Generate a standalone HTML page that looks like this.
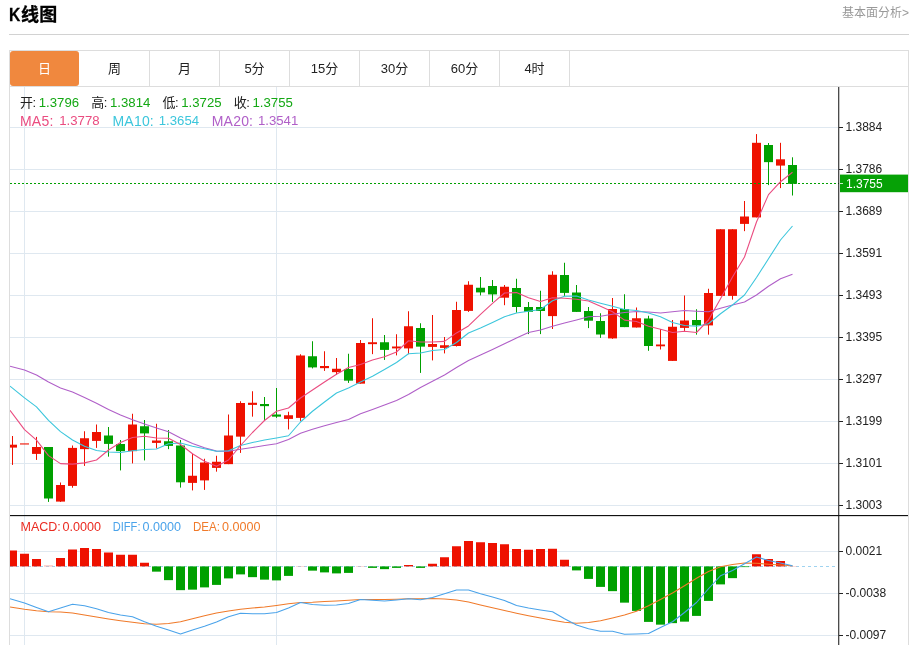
<!DOCTYPE html>
<html lang="zh-CN">
<head>
<meta charset="utf-8">
<title>K线图</title>
<style>
html,body{margin:0;padding:0;background:#fff;}
body{width:919px;height:645px;position:relative;overflow:hidden;font-family:"Liberation Sans","Noto Sans CJK SC",sans-serif;color:#222;}
.title{position:absolute;left:9.3px;top:1.8px;font-size:18px;font-weight:bold;line-height:26px;color:#000;white-space:nowrap;letter-spacing:0.3px;-webkit-text-stroke:0.3px #000;}
.more{position:absolute;right:10px;top:4px;font-size:12px;line-height:18px;color:#999;white-space:nowrap;}
.hr{position:absolute;left:9px;top:34px;width:900px;height:1px;background:#d2d2d2;}
.box{position:absolute;left:9px;top:50px;width:898px;height:620px;border:1px solid #ddd;}
.tabs{position:absolute;left:0;top:0;width:898px;height:35px;border-bottom:1px solid #ddd;}
.tab{position:absolute;top:0;width:69px;height:35px;border-right:1px solid #ddd;text-align:center;font-size:13px;line-height:36px;color:#222;}
.tab.on{background:#f0883e;color:#fff;border-right:0;width:69.8px;margin-left:-0.5px;border-radius:3px;}
.t{position:absolute;white-space:nowrap;font-size:14px;line-height:18px;}
.k{color:#222;font-size:13px;letter-spacing:-0.5px}.v{color:#14a814;font-size:13.2px}.m{font-size:14px;letter-spacing:0.2px}.mv{font-size:13.2px}
</style>
</head>
<body>
<div class="title"><span style="display:inline-block;transform:scaleX(.87);transform-origin:0 50%;margin-right:-1.7px">K</span>线图</div>
<div class="more">基本面分析&gt;</div>
<div class="hr"></div>
<div class="box">
<div class="tabs">
<div class="tab on" style="left:0px">日</div>
<div class="tab" style="left:70px">周</div>
<div class="tab" style="left:140px">月</div>
<div class="tab" style="left:210px">5分</div>
<div class="tab" style="left:280px">15分</div>
<div class="tab" style="left:350px">30分</div>
<div class="tab" style="left:420px">60分</div>
<div class="tab" style="left:490px">4时</div>
</div>
</div>
<svg width="919" height="645" viewBox="0 0 919 645" style="position:absolute;left:0;top:0">
<defs><clipPath id="cp"><rect x="10" y="87" width="829" height="558"/></clipPath></defs>
<rect x="10" y="127" width="828" height="1" fill="#dfe8f0"/><rect x="10" y="169" width="828" height="1" fill="#dfe8f0"/><rect x="10" y="211" width="828" height="1" fill="#dfe8f0"/><rect x="10" y="253" width="828" height="1" fill="#dfe8f0"/><rect x="10" y="295" width="828" height="1" fill="#dfe8f0"/><rect x="10" y="337" width="828" height="1" fill="#dfe8f0"/><rect x="10" y="379" width="828" height="1" fill="#dfe8f0"/><rect x="10" y="421" width="828" height="1" fill="#dfe8f0"/><rect x="10" y="463" width="828" height="1" fill="#dfe8f0"/><rect x="10" y="505" width="828" height="1" fill="#dfe8f0"/><rect x="10" y="551" width="828" height="1" fill="#dfe8f0"/><rect x="10" y="593" width="828" height="1" fill="#dfe8f0"/><rect x="10" y="635" width="828" height="1" fill="#dfe8f0"/><rect x="24" y="87" width="1" height="558" fill="#dfe8f0"/><rect x="276" y="87" width="1" height="558" fill="#dfe8f0"/>
<line x1="10" y1="566.5" x2="836" y2="566.5" stroke="#9fd3f0" stroke-width="1" stroke-dasharray="3,3"/>
<g clip-path="url(#cp)">
<rect x="12" y="436" width="1" height="28.9" fill="#ee1100"/>
<rect x="8" y="444.7" width="9" height="2.9" fill="#ee1100"/>
<rect x="20" y="443.4" width="9" height="1.1" fill="#ee1100"/>
<rect x="36" y="436.9" width="1" height="23" fill="#ee1100"/>
<rect x="32" y="447" width="9" height="6.9" fill="#ee1100"/>
<rect x="48" y="447" width="1" height="54.9" fill="#00a000"/>
<rect x="44" y="447" width="9" height="51.5" fill="#00a000"/>
<rect x="60" y="482.5" width="1" height="19.4" fill="#ee1100"/>
<rect x="56" y="485" width="9" height="16.6" fill="#ee1100"/>
<rect x="72" y="445.5" width="1" height="42.2" fill="#ee1100"/>
<rect x="68" y="447.9" width="9" height="38" fill="#ee1100"/>
<rect x="84" y="431.25" width="1" height="34.65" fill="#ee1100"/>
<rect x="80" y="438.25" width="9" height="10.9" fill="#ee1100"/>
<rect x="96" y="424.5" width="1" height="23.4" fill="#ee1100"/>
<rect x="92" y="432" width="9" height="8.9" fill="#ee1100"/>
<rect x="108" y="427" width="1" height="29.65" fill="#00a000"/>
<rect x="104" y="435.5" width="9" height="8.4" fill="#00a000"/>
<rect x="120" y="440" width="1" height="30.4" fill="#00a000"/>
<rect x="116" y="444" width="9" height="7.15" fill="#00a000"/>
<rect x="132" y="413.75" width="1" height="49.65" fill="#ee1100"/>
<rect x="128" y="424.5" width="9" height="26.65" fill="#ee1100"/>
<rect x="144" y="420" width="1" height="40.4" fill="#00a000"/>
<rect x="140" y="426.25" width="9" height="7.15" fill="#00a000"/>
<rect x="156" y="423.75" width="1" height="24.65" fill="#ee1100"/>
<rect x="152" y="440.5" width="9" height="2.4" fill="#ee1100"/>
<rect x="168" y="430" width="1" height="19.15" fill="#00a000"/>
<rect x="164" y="441.25" width="9" height="4.65" fill="#00a000"/>
<rect x="180" y="440" width="1" height="47.6" fill="#00a000"/>
<rect x="176" y="445.5" width="9" height="36.8" fill="#00a000"/>
<rect x="192" y="453.75" width="1" height="36.65" fill="#ee1100"/>
<rect x="188" y="475.75" width="9" height="7.15" fill="#ee1100"/>
<rect x="204" y="458.75" width="1" height="31.15" fill="#ee1100"/>
<rect x="200" y="462.5" width="9" height="17.9" fill="#ee1100"/>
<rect x="216" y="455.75" width="1" height="15.9" fill="#ee1100"/>
<rect x="212" y="461.75" width="9" height="6.15" fill="#ee1100"/>
<rect x="228" y="414.5" width="1" height="49.65" fill="#ee1100"/>
<rect x="224" y="435.5" width="9" height="28.65" fill="#ee1100"/>
<rect x="240" y="401.25" width="1" height="51.65" fill="#ee1100"/>
<rect x="236" y="403" width="9" height="33.65" fill="#ee1100"/>
<rect x="252" y="391.25" width="1" height="25.4" fill="#ee1100"/>
<rect x="248" y="402.75" width="9" height="2.15" fill="#ee1100"/>
<rect x="264" y="397" width="1" height="22.9" fill="#00a000"/>
<rect x="260" y="404" width="9" height="2.15" fill="#00a000"/>
<rect x="276" y="388" width="1" height="29.9" fill="#00a000"/>
<rect x="272" y="414.5" width="9" height="2.15" fill="#00a000"/>
<rect x="288" y="411.75" width="1" height="17.65" fill="#ee1100"/>
<rect x="284" y="415.25" width="9" height="3.65" fill="#ee1100"/>
<rect x="300" y="354.25" width="1" height="66.65" fill="#ee1100"/>
<rect x="296" y="355.5" width="9" height="62.4" fill="#ee1100"/>
<rect x="312" y="341.25" width="1" height="27.15" fill="#00a000"/>
<rect x="308" y="356.25" width="9" height="11.15" fill="#00a000"/>
<rect x="324" y="351.25" width="1" height="19.65" fill="#ee1100"/>
<rect x="320" y="366" width="9" height="2.15" fill="#ee1100"/>
<rect x="336" y="358" width="1" height="16.9" fill="#ee1100"/>
<rect x="332" y="368.75" width="9" height="3.4" fill="#ee1100"/>
<rect x="348" y="353.75" width="1" height="29.15" fill="#00a000"/>
<rect x="344" y="369" width="9" height="11.65" fill="#00a000"/>
<rect x="360" y="340" width="1" height="43.65" fill="#ee1100"/>
<rect x="356" y="343" width="9" height="40.65" fill="#ee1100"/>
<rect x="372" y="318.25" width="1" height="35.9" fill="#ee1100"/>
<rect x="368" y="342.25" width="9" height="1.9" fill="#ee1100"/>
<rect x="384" y="335" width="1" height="24.9" fill="#00a000"/>
<rect x="380" y="342.25" width="9" height="7.65" fill="#00a000"/>
<rect x="396" y="334.25" width="1" height="21.15" fill="#ee1100"/>
<rect x="392" y="346.5" width="9" height="1.9" fill="#ee1100"/>
<rect x="408" y="311.25" width="1" height="42.9" fill="#ee1100"/>
<rect x="404" y="326.25" width="9" height="22.15" fill="#ee1100"/>
<rect x="420" y="323.25" width="1" height="49.65" fill="#00a000"/>
<rect x="416" y="328" width="9" height="18.65" fill="#00a000"/>
<rect x="432" y="315" width="1" height="45.4" fill="#ee1100"/>
<rect x="428" y="344" width="9" height="2.9" fill="#ee1100"/>
<rect x="444" y="337" width="1" height="16.4" fill="#ee1100"/>
<rect x="440" y="345.25" width="9" height="2.65" fill="#ee1100"/>
<rect x="456" y="301.75" width="1" height="44.75" fill="#ee1100"/>
<rect x="452" y="310" width="9" height="36" fill="#ee1100"/>
<rect x="468" y="281.25" width="1" height="30.65" fill="#ee1100"/>
<rect x="464" y="284.75" width="9" height="26.15" fill="#ee1100"/>
<rect x="480" y="277" width="1" height="18.4" fill="#00a000"/>
<rect x="476" y="287.75" width="9" height="4.65" fill="#00a000"/>
<rect x="492" y="280" width="1" height="21.9" fill="#00a000"/>
<rect x="488" y="286" width="9" height="8.4" fill="#00a000"/>
<rect x="504" y="285" width="1" height="20.2" fill="#ee1100"/>
<rect x="500" y="286.75" width="9" height="10.95" fill="#ee1100"/>
<rect x="516" y="278.75" width="1" height="33.95" fill="#00a000"/>
<rect x="512" y="288" width="9" height="19" fill="#00a000"/>
<rect x="528" y="302" width="1" height="32.1" fill="#00a000"/>
<rect x="524" y="307" width="9" height="4.8" fill="#00a000"/>
<rect x="540" y="290.75" width="1" height="43.35" fill="#00a000"/>
<rect x="536" y="307" width="9" height="4" fill="#00a000"/>
<rect x="552" y="271.25" width="1" height="57.75" fill="#ee1100"/>
<rect x="548" y="274.75" width="9" height="41.35" fill="#ee1100"/>
<rect x="564" y="262.75" width="1" height="33.15" fill="#00a000"/>
<rect x="560" y="275" width="9" height="17.9" fill="#00a000"/>
<rect x="576" y="285" width="1" height="26.9" fill="#00a000"/>
<rect x="572" y="292.5" width="9" height="19.4" fill="#00a000"/>
<rect x="588" y="307" width="1" height="21.1" fill="#00a000"/>
<rect x="584" y="311" width="9" height="9.7" fill="#00a000"/>
<rect x="600" y="313.25" width="1" height="24.65" fill="#00a000"/>
<rect x="596" y="321" width="9" height="13.5" fill="#00a000"/>
<rect x="612" y="298" width="1" height="40.8" fill="#ee1100"/>
<rect x="608" y="309" width="9" height="29.4" fill="#ee1100"/>
<rect x="624" y="294.25" width="1" height="32.85" fill="#00a000"/>
<rect x="620" y="309" width="9" height="18.1" fill="#00a000"/>
<rect x="636" y="307.5" width="1" height="20" fill="#ee1100"/>
<rect x="632" y="318.25" width="9" height="9.25" fill="#ee1100"/>
<rect x="648" y="315.75" width="1" height="35.05" fill="#00a000"/>
<rect x="644" y="318.5" width="9" height="27.5" fill="#00a000"/>
<rect x="660" y="329" width="1" height="20.5" fill="#ee1100"/>
<rect x="656" y="344.5" width="9" height="1.8" fill="#ee1100"/>
<rect x="672" y="320" width="1" height="40.9" fill="#ee1100"/>
<rect x="668" y="326.75" width="9" height="34.15" fill="#ee1100"/>
<rect x="684" y="295.5" width="1" height="35.4" fill="#ee1100"/>
<rect x="680" y="320.5" width="9" height="7.4" fill="#ee1100"/>
<rect x="696" y="309.25" width="1" height="25.4" fill="#00a000"/>
<rect x="692" y="320" width="9" height="5.4" fill="#00a000"/>
<rect x="708" y="288.75" width="1" height="45.9" fill="#ee1100"/>
<rect x="704" y="293" width="9" height="32.4" fill="#ee1100"/>
<rect x="720" y="229.25" width="1" height="66.65" fill="#ee1100"/>
<rect x="716" y="229.25" width="9" height="66.65" fill="#ee1100"/>
<rect x="732" y="229.25" width="1" height="70.4" fill="#ee1100"/>
<rect x="728" y="229.25" width="9" height="66.65" fill="#ee1100"/>
<rect x="744" y="201" width="1" height="30.15" fill="#ee1100"/>
<rect x="740" y="216.5" width="9" height="7.4" fill="#ee1100"/>
<rect x="756" y="134.1" width="1" height="83.3" fill="#ee1100"/>
<rect x="752" y="142.8" width="9" height="74.6" fill="#ee1100"/>
<rect x="768" y="143" width="1" height="42.1" fill="#00a000"/>
<rect x="764" y="145" width="9" height="17.15" fill="#00a000"/>
<rect x="780" y="142.8" width="1" height="45.3" fill="#ee1100"/>
<rect x="776" y="159.3" width="9" height="6.3" fill="#ee1100"/>
<rect x="792" y="157.3" width="1" height="38.2" fill="#00a000"/>
<rect x="788" y="165" width="9" height="18.8" fill="#00a000"/>
<rect x="8" y="550.5" width="9" height="15.9" fill="#ee1100"/>
<rect x="20" y="553.75" width="9" height="12.65" fill="#ee1100"/>
<rect x="32" y="559" width="9" height="7.4" fill="#ee1100"/>
<rect x="44" y="565.5" width="9" height="0.9" fill="#f7a8a0"/>
<rect x="56" y="558" width="9" height="8.4" fill="#ee1100"/>
<rect x="68" y="549.5" width="9" height="16.9" fill="#ee1100"/>
<rect x="80" y="548" width="9" height="18.4" fill="#ee1100"/>
<rect x="92" y="549" width="9" height="17.4" fill="#ee1100"/>
<rect x="104" y="552.5" width="9" height="13.9" fill="#ee1100"/>
<rect x="116" y="554.75" width="9" height="11.65" fill="#ee1100"/>
<rect x="128" y="554.75" width="9" height="11.65" fill="#ee1100"/>
<rect x="140" y="562.75" width="9" height="3.65" fill="#ee1100"/>
<rect x="152" y="566.4" width="9" height="5.25" fill="#00a000"/>
<rect x="164" y="566.4" width="9" height="13.75" fill="#00a000"/>
<rect x="176" y="566.4" width="9" height="23.75" fill="#00a000"/>
<rect x="188" y="566.4" width="9" height="23.25" fill="#00a000"/>
<rect x="200" y="566.4" width="9" height="21" fill="#00a000"/>
<rect x="212" y="566.4" width="9" height="18.5" fill="#00a000"/>
<rect x="224" y="566.4" width="9" height="12" fill="#00a000"/>
<rect x="236" y="566.4" width="9" height="8" fill="#00a000"/>
<rect x="248" y="566.4" width="9" height="10.75" fill="#00a000"/>
<rect x="260" y="566.4" width="9" height="13.25" fill="#00a000"/>
<rect x="272" y="566.4" width="9" height="14" fill="#00a000"/>
<rect x="284" y="566.4" width="9" height="9.5" fill="#00a000"/>
<rect x="296" y="566" width="9" height="0.4" fill="#f7a8a0"/>
<rect x="308" y="566.4" width="9" height="4.25" fill="#00a000"/>
<rect x="320" y="566.4" width="9" height="6" fill="#00a000"/>
<rect x="332" y="566.4" width="9" height="7" fill="#00a000"/>
<rect x="344" y="566.4" width="9" height="6.5" fill="#00a000"/>
<rect x="356" y="566" width="9" height="0.4" fill="#f7a8a0"/>
<rect x="368" y="566.4" width="9" height="1.5" fill="#00a000"/>
<rect x="380" y="566.4" width="9" height="2.75" fill="#00a000"/>
<rect x="392" y="566.4" width="9" height="1.5" fill="#00a000"/>
<rect x="404" y="565" width="9" height="1.4" fill="#ee1100"/>
<rect x="416" y="566.4" width="9" height="1.5" fill="#00a000"/>
<rect x="428" y="563.75" width="9" height="2.65" fill="#ee1100"/>
<rect x="440" y="557.25" width="9" height="9.15" fill="#ee1100"/>
<rect x="452" y="546.25" width="9" height="20.15" fill="#ee1100"/>
<rect x="464" y="541" width="9" height="25.4" fill="#ee1100"/>
<rect x="476" y="542.25" width="9" height="24.15" fill="#ee1100"/>
<rect x="488" y="543" width="9" height="23.4" fill="#ee1100"/>
<rect x="500" y="544.25" width="9" height="22.15" fill="#ee1100"/>
<rect x="512" y="549" width="9" height="17.4" fill="#ee1100"/>
<rect x="524" y="549.75" width="9" height="16.65" fill="#ee1100"/>
<rect x="536" y="549" width="9" height="17.4" fill="#ee1100"/>
<rect x="548" y="548.75" width="9" height="17.65" fill="#ee1100"/>
<rect x="560" y="559.75" width="9" height="6.65" fill="#ee1100"/>
<rect x="572" y="566.4" width="9" height="4" fill="#00a000"/>
<rect x="584" y="566.4" width="9" height="12.5" fill="#00a000"/>
<rect x="596" y="566.4" width="9" height="20.5" fill="#00a000"/>
<rect x="608" y="566.4" width="9" height="24.75" fill="#00a000"/>
<rect x="620" y="566.4" width="9" height="36.25" fill="#00a000"/>
<rect x="632" y="566.4" width="9" height="44.5" fill="#00a000"/>
<rect x="644" y="566.4" width="9" height="55.5" fill="#00a000"/>
<rect x="656" y="566.4" width="9" height="58.25" fill="#00a000"/>
<rect x="668" y="566.4" width="9" height="56.75" fill="#00a000"/>
<rect x="680" y="566.4" width="9" height="55.25" fill="#00a000"/>
<rect x="692" y="566.4" width="9" height="49.5" fill="#00a000"/>
<rect x="704" y="566.4" width="9" height="34.5" fill="#00a000"/>
<rect x="716" y="566.4" width="9" height="18" fill="#00a000"/>
<rect x="728" y="566.4" width="9" height="11.75" fill="#00a000"/>
<rect x="740" y="566.4" width="9" height="0.7" fill="#00a000"/>
<rect x="752" y="554.25" width="9" height="12.15" fill="#ee1100"/>
<rect x="764" y="559" width="9" height="7.4" fill="#ee1100"/>
<rect x="776" y="561" width="9" height="5.4" fill="#ee1100"/>
<rect x="788" y="566" width="9" height="0.4" fill="#f7a8a0"/>
<line x1="10" y1="183.5" x2="839" y2="183.5" stroke="#00a000" stroke-width="1" stroke-dasharray="2,2"/>
<polyline fill="none" stroke="#b05fc8" stroke-width="1.1" stroke-linejoin="round" points="10,366.25 24.5,370 36.5,375 48.5,382 60.5,388 72.5,392 84.5,397.5 96.5,403.25 108.5,409.5 120.5,415 132.5,419.8 144.5,424 156.5,427.9 168.5,431.8 180.5,438 192.5,443.4 204.5,447.7 216.5,451.1 228.5,451.25 240.5,449.25 252.5,447.5 264.5,445.5 276.5,443.75 288.5,439.5 300.5,433.25 312.5,429.25 324.5,425.75 336.5,422.5 348.5,419.5 360.5,413.75 372.5,409.5 384.5,405 396.5,400.5 408.5,394.5 420.5,387.5 432.5,381.25 444.5,375 456.5,367.5 468.5,360.5 480.5,355 492.5,349.5 504.5,343.75 516.5,338 528.5,332.5 540.5,330 552.5,326.25 564.5,323 576.5,320 588.5,316.75 600.5,316.25 612.5,314.25 624.5,312.5 636.5,311.5 648.5,312 660.5,313 672.5,311.75 684.5,310.5 696.5,311.25 708.5,311.75 720.5,308.25 732.5,305 744.5,302 756.5,295 768.5,286.25 780.5,278.75 792.5,274.25"/>
<polyline fill="none" stroke="#3cc6dc" stroke-width="1.1" stroke-linejoin="round" points="10,386.1 24.5,397.9 36.5,406.9 48.5,420.4 60.5,431.6 72.5,440 84.5,446.25 96.5,450.5 108.5,452 120.5,452.5 132.5,450.75 144.5,449.5 156.5,449 168.5,443.75 180.5,443 192.5,446.25 204.5,448.75 216.5,451.25 228.5,450.75 240.5,445.5 252.5,442.5 264.5,440 276.5,438 288.5,435.75 300.5,422 312.5,411.25 324.5,402 336.5,393 348.5,388 360.5,382 372.5,376.25 384.5,369.5 396.5,362.5 408.5,353.75 420.5,353 432.5,350.5 444.5,349.5 456.5,342.5 468.5,333 480.5,328 492.5,322.5 504.5,316.75 516.5,313 528.5,311.25 540.5,309.5 552.5,300.75 564.5,296.25 576.5,296 588.5,300 600.5,303.25 612.5,306.25 624.5,309.5 636.5,310.5 648.5,313 660.5,316.75 672.5,322.5 684.5,325.5 696.5,326.25 708.5,323.75 720.5,313.75 732.5,305 744.5,295 756.5,277.5 768.5,258.75 780.5,240 792.5,226"/>
<polyline fill="none" stroke="#ea4c80" stroke-width="1.1" stroke-linejoin="round" points="10,410.3 24.5,429.6 36.5,440.2 48.5,455.6 60.5,463.6 72.5,464.1 84.5,462.9 96.5,460 108.5,450 120.5,442.5 132.5,437.5 144.5,436.25 156.5,438 168.5,438.25 180.5,444.5 192.5,453.75 204.5,461.25 216.5,466.25 228.5,460 240.5,445.5 252.5,432.5 264.5,420.5 276.5,411.25 288.5,408 300.5,398 312.5,390 324.5,382 336.5,374.25 348.5,367.5 360.5,364.5 372.5,360 384.5,356.75 396.5,352 408.5,340.75 420.5,342 432.5,342 444.5,341.4 456.5,332.9 468.5,325.9 480.5,314.3 492.5,303.4 504.5,293 516.5,292.6 528.5,297.7 540.5,301.5 552.5,297.7 564.5,298.3 576.5,299.2 588.5,301 600.5,306.2 612.5,311.7 624.5,320.1 636.5,321.5 648.5,326.3 660.5,329.25 672.5,332.5 684.5,331.25 696.5,332.5 708.5,320 720.5,298.75 732.5,277 744.5,257 756.5,222 768.5,194.6 780.5,181.7 792.5,172.3"/>
<polyline fill="none" stroke="#f07a2a" stroke-width="1.1" stroke-linejoin="round" points="10,607 24.5,609.25 36.5,610.75 48.5,611.75 60.5,612 72.5,613 84.5,615 96.5,617 108.5,619 120.5,620.75 132.5,622.25 144.5,623.75 156.5,624.25 168.5,623.5 180.5,621.75 192.5,618.75 204.5,615.75 216.5,613 228.5,611 240.5,609.25 252.5,608 264.5,607 276.5,605.5 288.5,603.75 300.5,602.5 312.5,602.25 324.5,601.5 336.5,601 348.5,600.25 360.5,599.5 372.5,599.5 384.5,599.5 396.5,599.25 408.5,598.75 420.5,598.75 432.5,598.5 444.5,599 456.5,600 468.5,602 480.5,605 492.5,607.75 504.5,610.5 516.5,613.25 528.5,615.75 540.5,618 552.5,620.25 564.5,622.25 576.5,623.25 588.5,622.5 600.5,620.75 612.5,618 624.5,615 636.5,611.25 648.5,605.75 660.5,599.5 672.5,593 684.5,585.75 696.5,578.25 708.5,571.5 720.5,566.75 732.5,564.5 744.5,563 756.5,563.25 768.5,564.25 780.5,565 792.5,565.75"/>
<polyline fill="none" stroke="#4aa3ea" stroke-width="1.1" stroke-linejoin="round" points="10,598.75 24.5,603 36.5,607.5 48.5,611.75 60.5,608 72.5,604.25 84.5,605.75 96.5,608.75 108.5,612.5 120.5,615 132.5,616.75 144.5,621.75 156.5,626.25 168.5,630 180.5,634 192.5,630 204.5,626.25 216.5,622 228.5,616.75 240.5,613.25 252.5,613.75 264.5,613.75 276.5,612.5 288.5,608 300.5,602.5 312.5,604.5 324.5,605.25 336.5,605 348.5,603.5 360.5,599.5 372.5,600.25 384.5,601 396.5,600 408.5,598.75 420.5,599.75 432.5,597.5 444.5,593.75 456.5,590 468.5,590 480.5,593.75 492.5,597 504.5,600.5 516.5,605.5 528.5,608 540.5,610 552.5,611.75 564.5,618.75 576.5,625 588.5,628.75 600.5,631.25 612.5,631.25 624.5,634.25 636.5,634 648.5,633.5 660.5,627.5 672.5,621.75 684.5,612.5 696.5,602.5 708.5,588.75 720.5,575.75 732.5,570.5 744.5,563.75 756.5,557 768.5,560.5 780.5,563 792.5,565.75"/>
</g>
<rect x="10" y="515" width="898" height="1.15" fill="#111"/>
<rect x="838.25" y="87" width="1" height="558" fill="#111"/>
<g font-family="'Liberation Sans', sans-serif"><rect x="839" y="127" width="4" height="1" fill="#222"/><text x="845.5" y="131.3" font-size="12" fill="#222">1.3884</text><rect x="839" y="169" width="4" height="1" fill="#222"/><text x="845.5" y="173.3" font-size="12" fill="#222">1.3786</text><rect x="839" y="211" width="4" height="1" fill="#222"/><text x="845.5" y="215.3" font-size="12" fill="#222">1.3689</text><rect x="839" y="253" width="4" height="1" fill="#222"/><text x="845.5" y="257.3" font-size="12" fill="#222">1.3591</text><rect x="839" y="295" width="4" height="1" fill="#222"/><text x="845.5" y="299.3" font-size="12" fill="#222">1.3493</text><rect x="839" y="337" width="4" height="1" fill="#222"/><text x="845.5" y="341.3" font-size="12" fill="#222">1.3395</text><rect x="839" y="379" width="4" height="1" fill="#222"/><text x="845.5" y="383.3" font-size="12" fill="#222">1.3297</text><rect x="839" y="421" width="4" height="1" fill="#222"/><text x="845.5" y="425.3" font-size="12" fill="#222">1.3199</text><rect x="839" y="463" width="4" height="1" fill="#222"/><text x="845.5" y="467.3" font-size="12" fill="#222">1.3101</text><rect x="839" y="505" width="4" height="1" fill="#222"/><text x="845.5" y="509.3" font-size="12" fill="#222">1.3003</text><rect x="839" y="551" width="4" height="1" fill="#222"/><text x="845.5" y="555.3" font-size="12" fill="#222">0.0021</text><rect x="839" y="593" width="4" height="1" fill="#222"/><text x="845.5" y="597.3" font-size="12" fill="#222">-0.0038</text><rect x="839" y="635" width="4" height="1" fill="#222"/><text x="845.5" y="639.3" font-size="12" fill="#222">-0.0097</text>
<rect x="840" y="174.6" width="68" height="17.6" fill="#06a106"/>
<rect x="840" y="183" width="3" height="1" fill="#c8f0c8"/>
<text x="846" y="188" font-size="12" fill="#fff">1.3755</text>
<text x="20.5" y="531.2" font-size="12.5" fill="#ea2a20">MACD:</text><text x="62.4" y="531.2" font-size="12.6" fill="#ea2a20">0.0000</text>
<text x="112.7" y="531.2" font-size="12.5" fill="#4aa3ea" textLength="27.8" lengthAdjust="spacingAndGlyphs">DIFF:</text><text x="142.6" y="531.2" font-size="12.6" fill="#4aa3ea">0.0000</text>
<text x="192.9" y="531.2" font-size="12.5" fill="#f07a2a" textLength="27" lengthAdjust="spacingAndGlyphs">DEA:</text><text x="221.9" y="531.2" font-size="12.6" fill="#f07a2a">0.0000</text>
</g>
</svg>
<div class="t k" style="left:20.00px;top:93.5px">开:</div><div class="t v" style="left:38.75px;top:93.5px">1.3796</div>
<div class="t k" style="left:91.25px;top:93.5px">高:</div><div class="t v" style="left:110.00px;top:93.5px">1.3814</div>
<div class="t k" style="left:162.50px;top:93.5px">低:</div><div class="t v" style="left:181.25px;top:93.5px">1.3725</div>
<div class="t k" style="left:233.75px;top:93.5px">收:</div><div class="t v" style="left:252.50px;top:93.5px">1.3755</div>
<div class="t m" style="left:20.00px;top:112px;color:#ea4c80">MA5:</div><div class="t mv" style="left:59.25px;top:112px;color:#ea4c80">1.3778</div>
<div class="t m" style="left:112.50px;top:112px;color:#3cc6dc">MA10:</div><div class="t mv" style="left:158.75px;top:112px;color:#3cc6dc">1.3654</div>
<div class="t m" style="left:211.75px;top:112px;color:#b05fc8">MA20:</div><div class="t mv" style="left:257.90px;top:112px;color:#b05fc8">1.3541</div>
</body>
</html>
